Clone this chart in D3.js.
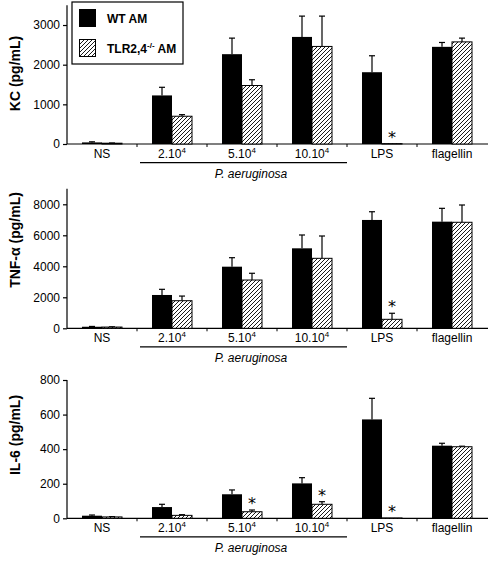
<!DOCTYPE html>
<html><head><meta charset="utf-8">
<script src="https://cdn.jsdelivr.net/npm/d3@7"></script>
<style>
body{margin:0;background:#fff;}
svg{display:block;font-family:"Liberation Sans",Arial,sans-serif;}
</style></head>
<body><svg id="c" width="498" height="561"></svg>
<script>
const categories = ["NS","2.10^4","5.10^4","10.10^4","LPS","flagellin"];
const series = ["WT AM","TLR2,4^-/- AM"];

const kcWT = [40,1225,2265,2700,1810,2450];
const kcWTErr = [15,205,405,525,415,110];
const kcKO = [20,700,1475,2460,10,2575];
const kcKOErr = [5,40,145,765,0,95];
const kcSig = [false,false,false,false,true,false];
const kcTicks = [0,1000,2000,3000];

const tnfWT = [100,2150,3975,5160,6990,6880];
const tnfWTErr = [20,365,580,860,530,860];
const tnfKO = [80,1780,3115,4515,580,6840];
const tnfKOErr = [15,300,435,1440,390,1115];
const tnfSig = [false,false,false,false,true,false];
const tnfTicks = [0,2000,4000,6000,8000];

const il6WT = [15,65,139,202,572,420];
const il6WTErr = [4,16,25,33,122,14];
const il6KO = [8,17,38,81,2,414];
const il6KOErr = [2,4,10,15,0,3];
const il6Sig = [false,false,true,true,true,false];
const il6Ticks = [0,200,400,600,800];

const groupLabel = "P. aeruginosa";
const groupCats = ["2.10^4","10.10^4"];

const panels = [
  {title:"KC (pg/mL)", max:3500, wt:kcWT, wtE:kcWTErr, ko:kcKO, koE:kcKOErr, sig:kcSig, ticks:kcTicks, base:144, top:5.2, tc:73.5},
  {title:"TNF-\u03B1 (pg/mL)", max:9000, wt:tnfWT, wtE:tnfWTErr, ko:tnfKO, koE:tnfKOErr, sig:tnfSig, ticks:tnfTicks, base:328.3, top:188.8, tc:240},
  {title:"IL-6 (pg/mL)", max:800, wt:il6WT, wtE:il6WTErr, ko:il6KO, koE:il6KOErr, sig:il6Sig, ticks:il6Ticks, base:518.3, top:380, tc:435}
];

const svg = d3.select("#c");
const defs = svg.append("defs");
const pat = defs.append("pattern").attr("id","hatch").attr("patternUnits","userSpaceOnUse")
  .attr("width",4).attr("height",4);
pat.append("rect").attr("width",4).attr("height",4).attr("fill","#fff");
pat.append("path").attr("d","M-1,1 l2,-2 M0,4 l4,-4 M3,5 l2,-2").attr("stroke","#000").attr("stroke-width",0.9);

const x = d3.scaleBand().domain(categories).range([67,487]);
const inner = d3.scaleBand().domain(series).range([15,55]);

function catLabel(sel, s){
  const parts = s.split("^");
  sel.text(parts[0]);
  if(parts[1]) sel.append("tspan").attr("dy",-5).attr("font-size",8).text(parts[1]);
}

panels.forEach(p=>{
  const y = d3.scaleLinear().domain([0,p.max]).range([p.base,p.top]);
  const g = svg.append("g");
  const ya = g.append("g").attr("transform","translate(67,0)")
    .call(d3.axisLeft(y).tickValues(p.ticks).tickSize(4).tickPadding(3).tickFormat(d3.format("d")));
  ya.select(".domain").attr("d",`M0,${p.top}V${p.base}`).attr("stroke-width",1.2);
  ya.selectAll(".tick line").attr("stroke-width",1.2);
  ya.selectAll("text").attr("font-size",12).attr("font-family","Liberation Sans, Arial, sans-serif").attr("fill","#000");
  g.append("line").attr("x1",67).attr("x2",488).attr("y1",p.base).attr("y2",p.base).attr("stroke","#000").attr("stroke-width",1.2);
  const bounds = categories.map(c=>x(c)+x.bandwidth()).slice(0,-1);
  g.selectAll(".ct").data(bounds).join("line").attr("x1",d=>d).attr("x2",d=>d)
    .attr("y1",p.base).attr("y2",p.base+3).attr("stroke","#000").attr("stroke-width",1);
  g.selectAll(".cl").data(categories).join("text")
    .attr("x",d=>x(d)+x.bandwidth()/2).attr("y",p.base+14).attr("text-anchor","middle")
    .attr("font-size",12).attr("fill","#000").each(function(d){catLabel(d3.select(this),d);});
  const gx1 = x(groupCats[0])+3, gx2 = x(groupCats[1])+x.bandwidth();
  g.append("line").attr("x1",gx1).attr("x2",gx2).attr("y1",p.base+18.6).attr("y2",p.base+18.6)
    .attr("stroke","#000").attr("stroke-width",1.2);
  g.append("text").attr("x",251).attr("y",p.base+34).attr("text-anchor","middle")
    .attr("font-size",12).attr("font-style","italic").attr("fill","#000").text(groupLabel);
  g.append("text").attr("transform",`translate(20,${p.tc}) rotate(-90)`).attr("text-anchor","middle")
    .attr("font-size",14).attr("font-weight","bold").attr("fill","#000").text(p.title);
  const data = [];
  categories.forEach((c,i)=>{
    data.push({c, s:series[0], v:p.wt[i], e:p.wtE[i], sig:false});
    data.push({c, s:series[1], v:p.ko[i], e:p.koE[i], sig:p.sig[i]});
  });
  data.forEach(d=>{
    const cx = x(d.c)+inner(d.s)+inner.bandwidth()/2;
    if(d.e>0){
      g.append("line").attr("x1",cx).attr("x2",cx).attr("y1",y(d.v)).attr("y2",y(d.v+d.e)).attr("stroke","#000").attr("stroke-width",1.2);
      g.append("line").attr("x1",cx-3).attr("x2",cx+3).attr("y1",y(d.v+d.e)).attr("y2",y(d.v+d.e)).attr("stroke","#000").attr("stroke-width",1.2);
    }
  });
  g.selectAll(".bar").data(data).join("rect")
    .attr("x",d=>x(d.c)+inner(d.s)).attr("width",inner.bandwidth())
    .attr("y",d=>y(d.v)).attr("height",d=>p.base-y(d.v))
    .attr("fill",d=>d.s===series[0]?"#000":"url(#hatch)")
    .attr("stroke","#000").attr("stroke-width",d=>d.s===series[0]?0:1);
  g.selectAll(".sig").data(data.filter(d=>d.sig)).join("text")
    .attr("x",d=>x(d.c)+inner(d.s)+inner.bandwidth()/2)
    .attr("y",d=>y(d.v+d.e)-1).attr("text-anchor","middle")
    .attr("font-family","DejaVu Sans, sans-serif").attr("font-size",16).attr("fill","#000").text("*");
});

const lg = svg.append("g");
lg.append("rect").attr("x",72).attr("y",2).attr("width",111).attr("height",62).attr("fill","#fff").attr("stroke","#000").attr("stroke-width",1.2);
lg.append("rect").attr("x",79).attr("y",9).attr("width",17).attr("height",18).attr("fill","#000");
lg.append("rect").attr("x",79.5).attr("y",39.5).attr("width",16).attr("height",17).attr("fill","url(#hatch)").attr("stroke","#000").attr("stroke-width",1);
lg.append("text").attr("x",107).attr("y",23).attr("font-size",12).attr("font-weight","bold").attr("fill","#000").text("WT AM");
const t2 = lg.append("text").attr("x",107).attr("y",53).attr("font-size",12).attr("font-weight","bold").attr("fill","#000").text("TLR2,4");
t2.append("tspan").attr("dy",-5).attr("font-size",8).text("-/-");
t2.append("tspan").attr("dy",5).text(" AM");
</script></body></html>
